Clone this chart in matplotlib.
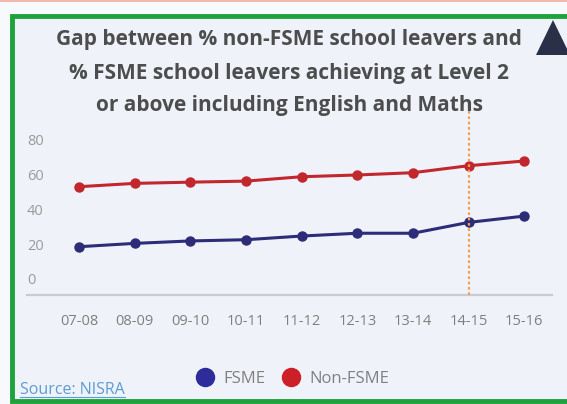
import matplotlib.pyplot as plt
from matplotlib.lines import Line2D
from matplotlib.patches import Rectangle, Polygon

plt.rcParams['font.family'] = ['Open Sans', 'DejaVu Sans']

# school years and % achieving Level 2 incl. English and Maths
years = ['07-08', '08-09', '09-10', '10-11', '11-12', '12-13', '13-14', '14-15', '15-16']
fsme = [27.6, 29.5, 30.9, 31.6, 33.7, 35.3, 35.3, 41.5, 45.1]
non_fsme = [61.9, 63.8, 64.5, 65.1, 67.6, 68.6, 69.9, 73.9, 76.6]
y_ticks = [0, 20, 40, 60, 80]
marker_year = '14-15'

W, H = 567, 404
fig = plt.figure(figsize=(W / 100, H / 100), dpi=100, facecolor='#f7f9fc')

# frame
fig.add_artist(Rectangle((0, 1 - 2 / H), 1, 2 / H, transform=fig.transFigure,
                         facecolor='#f3b7ad', edgecolor='none', zorder=-2))
fig.add_artist(Rectangle((12 / W, 3 / H), 1.1, (400 - 15) / H, transform=fig.transFigure,
                         facecolor='#eff3f9', edgecolor='#1ea23c', linewidth=3.5, zorder=-2))
fig.add_artist(Polygon([(536 / W, 1 - 55 / H), (553 / W, 1 - 20 / H), (570 / W, 1 - 55 / H)],
                       closed=True, transform=fig.transFigure, facecolor='#2b3049', edgecolor='none'))

title = ['Gap between % non-FSME school leavers and',
         '% FSME school leavers achieving at Level 2',
         'or above including English and Maths']
for i, line in enumerate(title):
    fig.text(289 / W, 1 - (40 + 33 * i) / H, line, ha='center', va='center',
             fontsize=15, fontweight='bold', color='#4d4d4d')

ax = fig.add_axes([27 / W, 1 - 295 / H, (552 - 27) / W, (295 - 105) / H])
ax.set_zorder(2)
ax.set_facecolor('none')
x = list(range(len(years)))
ax.plot(x, non_fsme, color='#c2272d', lw=2.2, marker='o', ms=6.5, zorder=3)
ax.plot(x, fsme, color='#2d2c78', lw=2.2, marker='o', ms=6.5, zorder=3)
ax.axvline(years.index(marker_year), color='#f29f4f', lw=1.6, ls=(0, (1.2, 1.2)), zorder=4)

ax.set_xlim(-0.934, 8.497)
ax.set_ylim(0, 108.6)
for s in ['top', 'right', 'left']:
    ax.spines[s].set_visible(False)
ax.spines['bottom'].set_color('#c9cdd3')
ax.spines['bottom'].set_linewidth(1.6)
ax.set_yticks([])
ax.set_xticks(x)
ax.set_xticklabels(years, fontsize=10.5, color='#7f7f7f')
ax.tick_params(axis='x', length=0, pad=14)
for v in y_ticks:
    ax.annotate(str(v), xy=(0, v), xycoords=('axes fraction', 'data'),
                xytext=(0, 14), textcoords='offset pixels',
                ha='left', va='center', fontsize=10.5, color='#9a9a9a')

handles = [Line2D([], [], ls='none', marker='o', ms=13, color='#2d2c9a'),
           Line2D([], [], ls='none', marker='o', ms=13, color='#cc1f27')]
fig.legend(handles, ['FSME', 'Non-FSME'], loc='center', bbox_to_anchor=(293 / W, 1 - 379 / H),
           ncol=2, frameon=False, fontsize=12, labelcolor='#808080',
           handlelength=1, handletextpad=0.6, columnspacing=1.0)

src = fig.text(20 / W, 1 - 390 / H, 'Source: NISRA', ha='left', va='center',
               fontsize=11.5, color='#5d9bd6')

# underline the source link
fig.canvas.draw()
bb = src.get_window_extent().transformed(fig.transFigure.inverted())
fig.add_artist(Line2D([bb.x0, bb.x1], [bb.y0 + 1.5 / H] * 2, transform=fig.transFigure,
                      color='#5d9bd6', lw=0.8))

fig.savefig('out.png', dpi=100, facecolor=fig.get_facecolor())
